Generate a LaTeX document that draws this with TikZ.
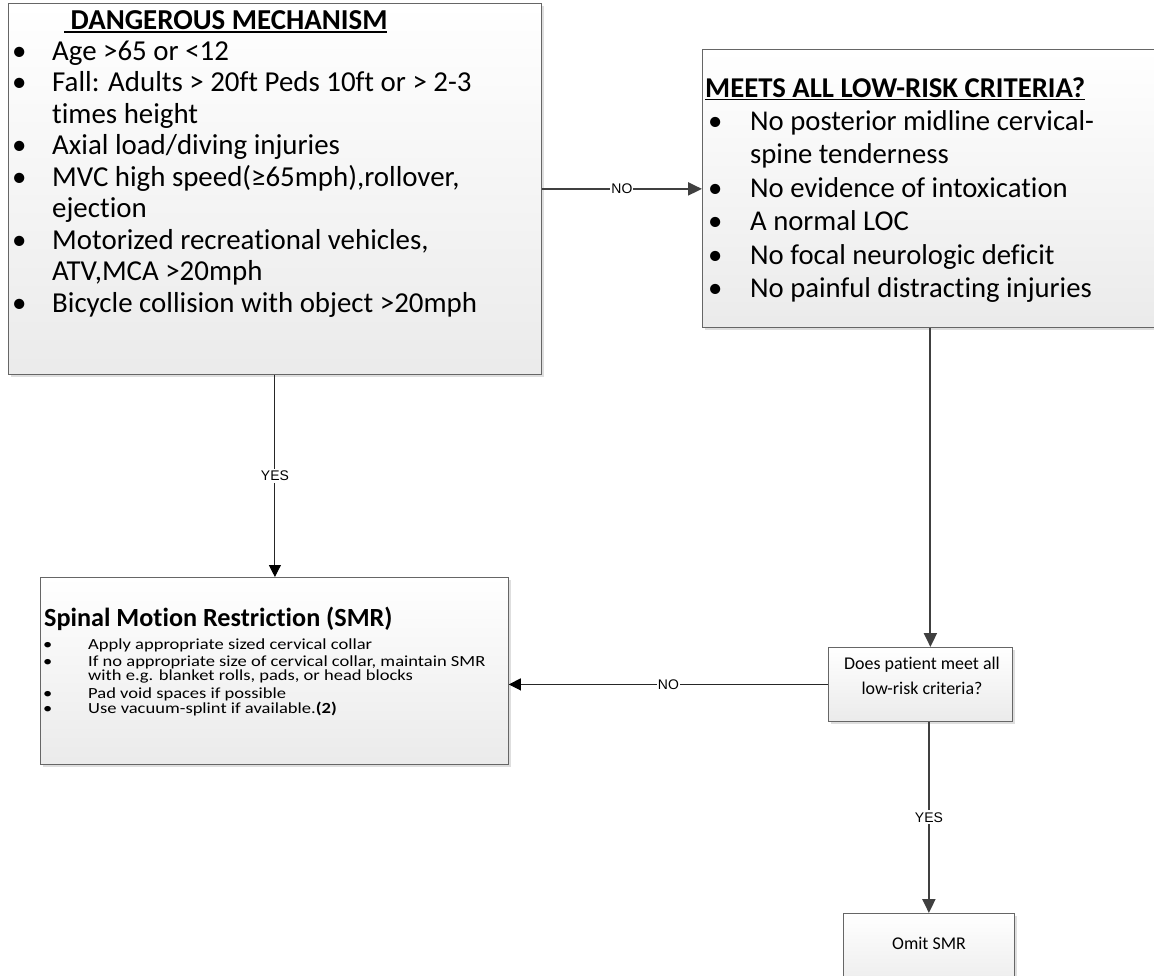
\documentclass[tikz,border=0pt]{standalone}
\usepackage{fontspec}
\setmainfont{Carlito}[Ligatures=NoCommon]
\setsansfont{Liberation Sans}
\newfontfamily\widefont{Carlito}[FakeStretch=1.2, Ligatures=NoCommon]
\usetikzlibrary{arrows.meta,shadows}
\newcommand\boxhead[1]{\leavevmode\vtop{\hbox{\textbf{#1}}\kern1.5bp\hrule height 1.8bp}}
\newcommand\tightline[1]{\smash{#1}}
\tikzset{
  card/.style = {anchor=north west, inner sep=0pt, draw=black!60, line width=0.8bp,
    top color=white, bottom color=black!8,
    drop shadow={shadow xshift=3bp, shadow yshift=-3bp, fill=black!13, opacity=1}},
  list_txt/.style = {anchor=base west, inner sep=0pt, align=left},
  plain_txt/.style = {inner sep=0pt, align=center, font=\fontsize{18}{24.5}\selectfont},
  link_dark/.style = {draw=black!75, line width=2bp, -{Triangle[length=14bp,width=13bp]}},
  link_thin/.style = {draw=black!85, line width=1bp, -{Triangle[length=12bp,width=12bp,color=black]}},
  tag/.style = {fill=white, inner xsep=1bp, inner ysep=2bp, font=\sffamily\fontsize{14}{14}\selectfont},
}
\begin{document}
\begin{tikzpicture}[x=1bp, y=-1bp]
  \fill [white] (0,0) rectangle (1154,976);
  \useasboundingbox (0,0) rectangle (1154,976);
  \clip (0,0) rectangle (1154,976);

  \node [card, minimum width=533bp, minimum height=371bp] (mech) at (8,3) {};
  \node [card, minimum width=456bp, minimum height=278bp] (crit) at (702,49) {};
  \node [card, minimum width=468bp, minimum height=187bp] (smr) at (40,577) {};
  \node [card, minimum width=184bp, minimum height=74bp] (ask) at (828,647) {};
  \node [card, minimum width=171bp, minimum height=80bp] (omit) at (843,913) {};

  \node [list_txt] (mech_txt) at (12,29) {\fontsize{29}{31.6}\selectfont
    \begin{tabular}[t]{@{}p{40bp}@{}l@{}}
      \multicolumn{2}{@{\hspace{52bp}}l@{}}{\boxhead{\ DANGEROUS MECHANISM}}\\
      \textbullet & Age >65 or <12\\
      \textbullet & Fall: Adults > 20ft Peds 10ft or > 2-3\\
                  & times height\\
      \textbullet & Axial load/diving injuries\\
      \textbullet & MVC high speed(≥65mph),rollover,\\
                  & ejection\\
      \textbullet & Motorized recreational vehicles,\\
                  & ATV,MCA >20mph\\
      \textbullet & Bicycle collision with object >20mph
    \end{tabular}};

  \node [list_txt] (crit_txt) at (705,97) {\fontsize{28.8}{33.6}\selectfont
    \begin{tabular}[t]{@{}p{45bp}@{}l@{}}
      \multicolumn{2}{@{}l@{}}{\boxhead{MEETS ALL LOW-RISK CRITERIA?}}\\
      \hspace{3bp}\textbullet & No posterior midline cervical-\\
                  & spine tenderness\\
      \hspace{3bp}\textbullet & No evidence of intoxication\\
      \hspace{3bp}\textbullet & A normal LOC\\
      \hspace{3bp}\textbullet & No focal neurologic deficit\\
      \hspace{3bp}\textbullet & No painful distracting injuries
    \end{tabular}};

  \node [list_txt, font=\fontsize{26.3}{26.3}\selectfont\bfseries] (smr_head) at (44,626)
    {Spinal Motion Restriction (SMR)};
  \node [list_txt] (smr_txt) at (43,649.5) {\widefont\fontsize{15.5}{14}\selectfont
    \begin{tabular}[t]{@{}p{45bp}@{}l@{}}
      \textbullet & \tightline{Apply appropriate sized cervical collar}\\[3bp]
      \textbullet & \tightline{If no appropriate size of cervical collar, maintain SMR}\\
                  & \tightline{with e.g. blanket rolls, pads, or head blocks}\\[4bp]
      \textbullet & \tightline{Pad void spaces if possible}\\[1.5bp]
      \textbullet & \tightline{Use vacuum-splint if available.\textbf{(2)}}
    \end{tabular}};

  \node [plain_txt] (ask_txt) at (922,676) {Does patient meet all\\low-risk criteria?};
  \node [plain_txt] (omit_txt) at (929,943) {Omit SMR};

  \draw [link_dark] (mech.east) -- node [tag] (no_top) {NO} (mech.east -| crit.west);
  \draw [link_thin] (mech.south) -- node [tag] (yes_left) {YES} (mech.south |- smr.north);
  \draw [link_dark] (crit.south) -- (crit.south |- ask.north);
  \draw [link_thin] (ask.west) -- node [tag] (no_low) {NO} (ask.west -| smr.east);
  \draw [link_dark] (ask.south -| omit.north) -- node [tag] (yes_right) {YES} (omit.north);
\end{tikzpicture}
\end{document}
